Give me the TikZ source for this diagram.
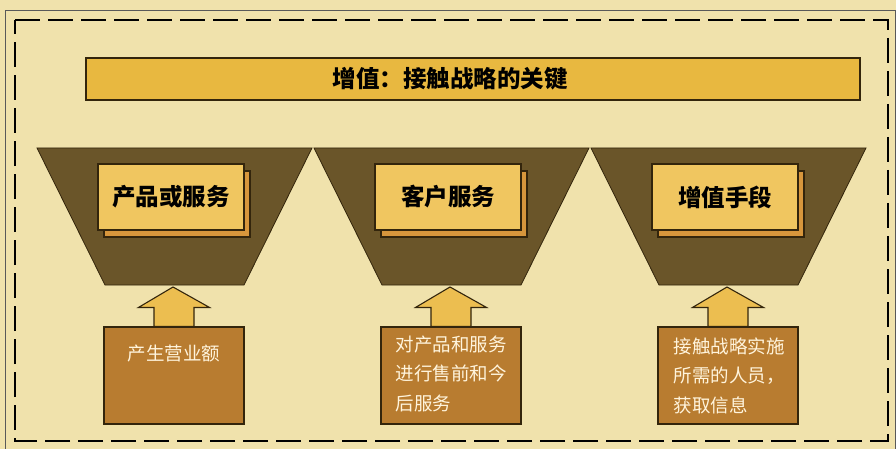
\documentclass[tikz,border=0pt]{standalone}
\usepackage{fontspec}
\newfontfamily\cjk{Noto Sans CJK SC}
\usetikzlibrary{calc}
\definecolor{bgc}{HTML}{F0E2AC}
\definecolor{titlec}{HTML}{E8B840}
\definecolor{trapc}{HTML}{6A5529}
\definecolor{innerc}{HTML}{F0C660}
\definecolor{shadc}{HTML}{D7963C}
\definecolor{arrc}{HTML}{ECBE50}
\definecolor{botc}{HTML}{B87C30}
\definecolor{edgec}{HTML}{33250C}
\definecolor{txtw}{HTML}{FFF4DC}
\tikzset{
  edge/.style={draw=edgec, line width=1.1pt},
  titlebar/.style={edge, fill=titlec, minimum width=774, minimum height=42, inner sep=0},
  titletxt/.style={inner sep=0, font={\cjk\bfseries\fontsize{23.5}{26}\selectfont}, text=black},
  trap/.style={draw=edgec, line width=0.8pt, fill=trapc},
  innerbox/.style={edge, fill=innerc, minimum width=146, minimum height=66, inner sep=0,
    font={\cjk\bfseries\fontsize{23.5}{26}\selectfont}, text=black},
  shadbox/.style={edge, fill=shadc, minimum width=146, minimum height=66, inner sep=0},
  botbox/.style={edge, fill=botc, minimum width=140, minimum height=97, inner sep=0},
  bottxt/.style={text=txtw, align=left, inner sep=0, anchor=north west,
    font={\cjk\fontsize{18.5}{29.5}\selectfont}},
  uparrow/.style={edge, fill=arrc},
}
\begin{document}
\begin{tikzpicture}[x=1pt,y=-1pt]
\useasboundingbox (0,0) rectangle (896,449);
\fill[bgc] (0,0) rectangle (896,449);
% outer gray frame
\draw[gray!70!black, line width=0.8pt] (5,449) -- (5,10) -- (895,10) -- (895,449);
% dashed frame
\draw[black, line width=2.6pt, dash pattern=on 25pt off 8pt] (15,20) -- (888,20) -- (888,441) -- (15,441) -- cycle;
% title
\node[titlebar] (title) at (473,79) {};
\node[titletxt] (titletext) at ($(title.center)+(-23,0)$) {增值：接触战略的关键};
% columns
\foreach \i/\cx/\lab in {1/174.5/产品或服务, 2/451.5/客户服务, 3/728.5/增值手段}{
  \coordinate (tl\i) at (\cx-137.5,148);
  \coordinate (tr\i) at (\cx+137.5,148);
  \coordinate (br\i) at (\cx+69.5,285);
  \coordinate (bl\i) at (\cx-69.5,285);
  \draw[trap] (tl\i) -- (tr\i) -- (br\i) -- (bl\i) -- cycle;
  \node[shadbox] (sh\i) at (\cx+2.5,204) {};
  \node[innerbox] (in\i) at (\cx-3.5,197) {\lab};
  \node[botbox] (bx\i) at (\cx-0.5,375.5) {};
  \coordinate (tip\i) at (\cx-1.5,287);
  \draw[uparrow] ($(bx\i.north)+(-20,0)$) -- ++(0,-19) -- ++(-15.5,0) -- (tip\i)
     -- ($(bx\i.north)+(35.5,-19)$) -- ++(-15.5,0) -- ($(bx\i.north)+(20,0)$) -- cycle;
}
\node[bottxt, anchor=north] (t1) at ($(bx1.north)+(0,18)$) {产生营业额};
\node[bottxt] (t2) at ($(bx2.north west)+(15,9)$) {对产品和服务\\进行售前和今\\后服务};
\node[bottxt] (t3) at ($(bx3.north west)+(16,11)$) {接触战略实施\\所需的人员，\\获取信息};
\end{tikzpicture}
\end{document}
